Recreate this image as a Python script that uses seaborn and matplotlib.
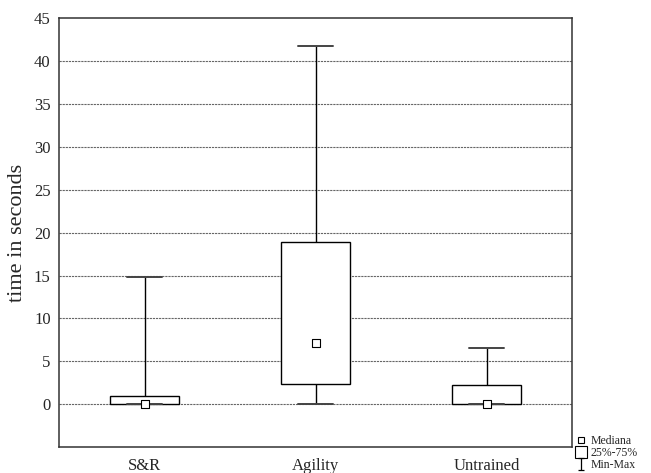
import numpy as np
import pandas as pd
import matplotlib
matplotlib.use("Agg")
import matplotlib.pyplot as plt
from matplotlib.lines import Line2D
from matplotlib.path import Path
import seaborn as sns

# values
groups = ["S&R", "Agility", "Untrained"]
mins = [0.0, 0.0, 0.0]
q1s = [0.0, 2.4, 0.0]
medians = [0.0, 7.1, 0.0]
q3s = [1.0, 18.9, 2.2]
maxs = [14.8, 41.8, 6.5]

# five points per group so that linear percentiles give exactly min/q1/med/q3/max
rows = []
for g, a, b, c, d, e in zip(groups, mins, q1s, medians, q3s, maxs):
    for v in (a, b, c, d, e):
        rows.append({"group": g, "time": v})
df = pd.DataFrame(rows)
med_df = pd.DataFrame({"group": groups, "time": medians})

sns.set_style("white")
plt.rcParams["font.family"] = ["Liberation Serif", "DejaVu Serif"]

fig = plt.figure(figsize=(6.51, 4.73), dpi=100)
ax = fig.add_axes([59 / 651, 26 / 473, 513 / 651, 428.5 / 473])

for y in range(0, 45, 5):
    ax.axhline(y, color="#666666", lw=0.8, ls=(0, (2, 0.8)), zorder=0)

sns.boxplot(data=df, x="group", y="time", order=groups, whis=(0, 100),
            width=0.4, color="white", linecolor="black", linewidth=1.0,
            showfliers=False, showcaps=True,
            medianprops={"visible": False},
            capprops={"color": "#444444", "linewidth": 1.4},
            ax=ax, zorder=2)

sns.scatterplot(data=med_df, x="group", y="time", marker="s", s=34,
                color="white", edgecolor="black", linewidth=0.8, zorder=5, ax=ax)

ax.set_xlim(-0.5, 2.5)
ax.set_ylim(-5, 45)
ax.set_yticks(range(0, 50, 5))
ax.set_xlabel("")
ax.set_ylabel("time in seconds", fontsize=16, labelpad=5)
ax.tick_params(axis="both", labelsize=12, direction="in", length=3,
               width=0.8, color="#333333")
ax.tick_params(axis="y", pad=6)
ax.tick_params(axis="x", pad=8)
for s in ax.spines.values():
    s.set_color("#333333")
    s.set_linewidth(1.1)

# cap-and-line symbol for the Min-Max legend entry
ibeam = Path([(-0.5, 1), (0.5, 1), (0, 1), (0, -1), (-0.5, -1), (0.5, -1)],
             [Path.MOVETO, Path.LINETO, Path.MOVETO, Path.LINETO, Path.MOVETO, Path.LINETO])
handles = [
    Line2D([], [], ls="", marker="s", ms=4.5, mfc="white", mec="black", mew=0.8),
    Line2D([], [], ls="", marker="s", ms=8, mfc="white", mec="black", mew=0.8),
    Line2D([], [], ls="", marker=ibeam, ms=8, mfc="none", mec="black", mew=0.9),
]
fig.legend(handles, ["Mediana", "25%-75%", "Min-Max"], loc="lower left",
           bbox_to_anchor=(567 / 651, -0.014), frameon=False, fontsize=8.5,
           handlelength=0.9, handletextpad=0.4, labelspacing=0.0,
           borderpad=0.2)

fig.savefig("out.png", dpi=100)
